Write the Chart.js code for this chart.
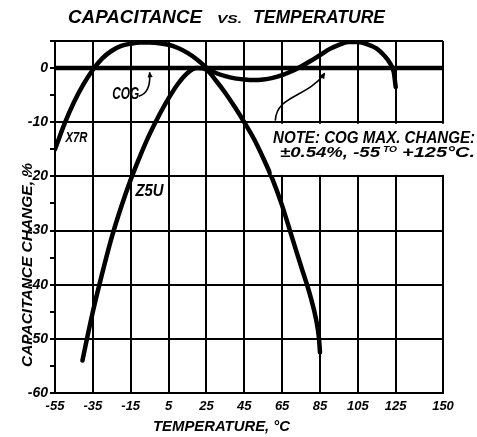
<!DOCTYPE html>
<html>
<head>
<meta charset="utf-8">
<title>Capacitance vs. Temperature</title>
<script src="https://cdn.jsdelivr.net/npm/chart.js@4/dist/chart.umd.min.js"></script>
<style>
  html, body { margin: 0; padding: 0; background: #fff; overflow: hidden; }
  canvas { display: block; }
</style>
</head>
<body>
<canvas id="capChart" width="477" height="437"></canvas>
<script>
// tick values
const tempTicks = [-55, -35, -15, 5, 25, 45, 65, 85, 105, 125, 150];
const changeTicks = [5, 0, -5, -10, -15, -20, -25, -30, -35, -40, -45, -50, -55, -60];

// COG is flat across the whole range
const cogTemps = [-55, 150];
const cogChange = [0, 0];

// X7R
const x7rTemps = [-55, -50, -45, -40, -35, -30, -25, -20, -15, -10, -5, 0, 5, 10, 15, 20, 25, 30, 35, 40, 45, 50, 55, 60, 65, 70, 75, 80, 85, 90, 95, 100, 105, 110, 115, 119, 122, 124, 125];
const x7rChange = [-15, -10.3, -6.3, -3.0, -0.3, 1.8, 3.2, 4.1, 4.5, 4.7, 4.7, 4.6, 4.3, 3.7, 2.8, 1.6, 0.1, -0.9, -1.5, -1.9, -2.1, -2.2, -2.1, -1.8, -1.3, -0.6, 0.3, 1.3, 2.4, 3.5, 4.3, 4.8, 4.8, 4.4, 3.6, 2.3, 0.9, -0.8, -3.5];

// Z5U
const z5uTemps = [-40.5, -38, -35, -31, -25, -20, -15, -10, -5, 0, 5, 10, 15, 20, 25, 30, 35, 40, 45, 50, 55, 60, 65, 70, 75, 80, 83, 84.5, 85];
const z5uChange = [-54, -49.8, -45, -39.2, -31.2, -25.6, -20.6, -16.2, -12.2, -8.7, -5.6, -2.9, -0.9, 0, -0.3, -2.3, -4.6, -7.2, -10, -13, -16.6, -20.6, -25.4, -31, -36.6, -42.2, -46.5, -50, -52.5];

const fontFamily = "'Liberation Sans', 'DejaVu Sans', sans-serif";
const ink = "#000";

const toPoints = (xs, ys) => xs.map((x, i) => ({ x, y: ys[i] }));

// draws text squeezed/stretched to a given width, like the hand lettering
function letter(ctx, text, x, y, size, width) {
  ctx.font = `italic bold ${size}px ${fontFamily}`;
  const w = ctx.measureText(text).width;
  ctx.save();
  ctx.translate(x, y);
  if (width) ctx.scale(width / w, 1);
  ctx.fillText(text, 0, 0);
  ctx.restore();
}

function arrowHead(ctx, fromX, fromY, tipX, tipY, size) {
  const a = Math.atan2(tipY - fromY, tipX - fromX);
  ctx.beginPath();
  ctx.moveTo(tipX, tipY);
  ctx.lineTo(tipX - size * Math.cos(a - 0.45), tipY - size * Math.sin(a - 0.45));
  ctx.lineTo(tipX - size * Math.cos(a + 0.45), tipY - size * Math.sin(a + 0.45));
  ctx.closePath();
  ctx.fill();
}

const handLettering = {
  id: "handLettering",
  afterDraw(chart) {
    const { ctx, scales: { x, y } } = chart;
    const px = (t) => x.getPixelForValue(t);
    const py = (v) => y.getPixelForValue(v);
    ctx.save();
    ctx.fillStyle = ink;
    ctx.strokeStyle = ink;
    ctx.textAlign = "left";
    ctx.textBaseline = "alphabetic";

    // main title
    letter(ctx, "CAPACITANCE", 68, 23, 18, 134);
    letter(ctx, "VS.", 217, 23, 11, 25);
    letter(ctx, "TEMPERATURE", 253, 23, 18, 132);

    // axis titles
    letter(ctx, "TEMPERATURE, °C", 153, 431, 15, 137);
    ctx.save();
    ctx.translate(32, 367);
    ctx.rotate(-Math.PI / 2);
    letter(ctx, "CAPACITANCE CHANGE, %", 0, 0, 14, 204);
    ctx.restore();

    // curve labels
    letter(ctx, "X7R", px(-49.5), py(-13.7), 15, 22);
    letter(ctx, "COG", px(-24.8), py(-5.7), 17, 27);
    letter(ctx, "Z5U", px(-12.5), py(-23.6), 16, 28);

    // COG arrow
    ctx.lineWidth = 1.6;
    ctx.beginPath();
    ctx.moveTo(px(-10.8), py(-5.2));
    ctx.quadraticCurveTo(px(-4.2), py(-4.6), px(-5), py(-0.8));
    ctx.stroke();
    arrowHead(ctx, px(-4.4), py(-3.2), px(-5), py(-0.7), 6);

    // note, on a white patch between the -10 and -20 lines
    const boxLeft = px(59.5);
    const boxTop = py(-10) + 1.5;
    ctx.fillStyle = "#fff";
    ctx.fillRect(boxLeft, boxTop, chart.width - boxLeft, py(-20) - boxTop - 1.5);
    ctx.fillStyle = ink;
    letter(ctx, "NOTE: COG MAX. CHANGE:", 273, 142.5, 16, 202);
    letter(ctx, "±0.54%, -55", 280, 156.5, 15, 100);
    letter(ctx, "TO", 383, 152, 9, 14);
    letter(ctx, "+125°C.", 402, 156.5, 15, 73);

    // note arrow
    ctx.beginPath();
    ctx.moveTo(px(61.4), py(-9.7));
    ctx.bezierCurveTo(px(62), py(-5), px(78), py(-5.5), px(87.5), py(-1));
    ctx.stroke();
    arrowHead(ctx, px(80), py(-5), px(87.7), py(-0.8), 7);

    ctx.restore();
  },
};

const curve = (data, width) => ({
  data,
  borderColor: ink,
  borderWidth: width,
  pointRadius: 0,
  fill: false,
  cubicInterpolationMode: "monotone",
  borderCapStyle: "round",
  borderJoinStyle: "round",
});

new Chart(document.getElementById("capChart"), {
  type: "line",
  data: {
    datasets: [
      { label: "COG", ...curve(toPoints(cogTemps, cogChange), 4.5) },
      { label: "X7R", ...curve(toPoints(x7rTemps, x7rChange), 4.5) },
      { label: "Z5U", ...curve(toPoints(z5uTemps, z5uChange), 4.5) },
    ],
  },
  options: {
    responsive: false,
    animation: false,
    layout: { padding: { left: 0, right: 34, top: 41, bottom: 0 } },
    plugins: {
      legend: { display: false },
      tooltip: { enabled: false },
      title: { display: false },
    },
    scales: {
      x: {
        type: "linear",
        min: -55,
        max: 150,
        afterBuildTicks: (scale) => {
          scale.ticks = tempTicks.map((value) => ({ value }));
        },
        afterFit: (scale) => {
          scale.height = 44;
        },
        ticks: {
          autoSkip: false,
          maxRotation: 0,
          padding: 6,
          color: ink,
          font: { family: fontFamily, size: 13, style: "italic", weight: "bold" },
          callback: (v) => String(v),
        },
        grid: { color: ink, lineWidth: 2, drawTicks: false },
        border: { color: ink, width: 2 },
      },
      y: {
        type: "linear",
        min: -60,
        max: 5,
        afterBuildTicks: (scale) => {
          scale.ticks = changeTicks.map((value) => ({ value }));
        },
        afterFit: (scale) => {
          scale.width = 55;
        },
        ticks: {
          autoSkip: false,
          padding: 2,
          color: ink,
          font: { family: fontFamily, size: 14, style: "italic", weight: "bold" },
          callback: (v) => (v % 10 === 0 ? String(v) : ""),
        },
        grid: {
          color: (c) => (c.tick && (c.tick.value % 10 === 0 || c.tick.value === 5) ? ink : "rgba(0,0,0,0)"),
          tickColor: ink,
          lineWidth: 2,
          tickLength: 5,
        },
        border: { color: ink, width: 2 },
      },
    },
  },
  plugins: [handLettering],
});
</script>
</body>
</html>
